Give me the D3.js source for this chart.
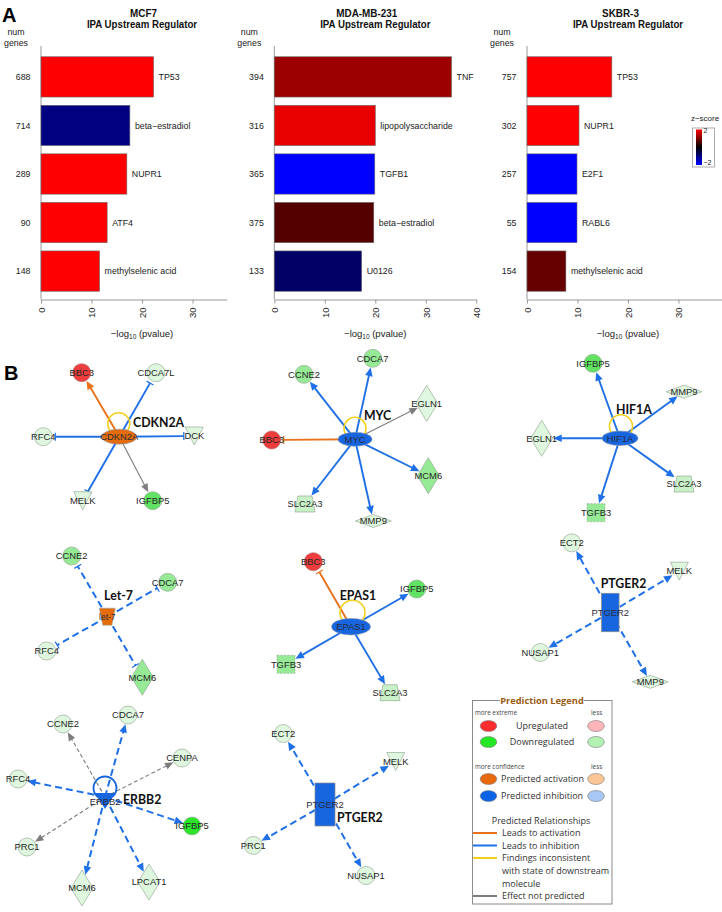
<!DOCTYPE html>
<html><head><meta charset="utf-8">
<script src="https://cdn.jsdelivr.net/npm/d3@7/dist/d3.min.js"></script>
<style>html,body{margin:0;padding:0;background:#fff}svg{display:block}</style>
</head><body>
<script>
// ---------------- Panel A data ----------------
const mcf7Regulators = ["TP53","beta\u2212estradiol","NUPR1","ATF4","methylselenic acid"];
const mcf7NumGenes   = [688,714,289,90,148];
const mcf7LogP       = [22.3,17.6,17.0,13.1,11.6];
const mcf7ZScore     = [2.0,-1.0,2.0,2.0,2.0];

const mdaRegulators  = ["TNF","lipopolysaccharide","TGFB1","beta\u2212estradiol","U0126"];
const mdaNumGenes    = [394,316,365,375,133];
const mdaLogP        = [35.1,20.0,19.9,19.7,17.3];
const mdaZScore      = [1.22,1.82,-2.0,0.67,-0.8];

const skbrRegulators = ["TP53","NUPR1","E2F1","RABL6","methylselenic acid"];
const skbrNumGenes   = [757,302,257,55,154];
const skbrLogP       = [16.8,10.3,9.9,9.9,7.7];
const skbrZScore     = [2.0,2.0,-2.0,-2.0,0.8];

const xTickValues  = [0,10,20,30,40];
const zLegendTicks = [2,-2];

// ---------------- Panel B data: [target, molecule type, expression, prediction, effect, link] ----------------
const cdkn2aEdges = [
  ["BBC3","other",3,"activation","arrow","direct"],
  ["CDCA7L","other",-1,"inhibition","bar","direct"],
  ["RFC4","other",-1,"inhibition","bar","direct"],
  ["DCK","kinase",-1,"inhibition","bar","direct"],
  ["MELK","kinase",-1,"inhibition","bar","direct"],
  ["IGFBP5","other",-3,"none","arrow","direct"]];
const mycEdges = [
  ["CCNE2","other",-2,"inhibition","arrow","direct"],
  ["CDCA7","other",-2,"inhibition","arrow","direct"],
  ["EGLN1","enzyme",-1,"none","arrow","direct"],
  ["BBC3","other",3,"activation","bar","direct"],
  ["MCM6","enzyme",-2,"inhibition","arrow","direct"],
  ["SLC2A3","transporter",-1.5,"inhibition","arrow","direct"],
  ["MMP9","peptidase",-1,"inhibition","arrow","direct"]];
const hif1aEdges = [
  ["IGFBP5","other",-3,"inhibition","arrow","direct"],
  ["MMP9","peptidase",-1,"inhibition","arrow","direct"],
  ["EGLN1","enzyme",-1,"inhibition","arrow","direct"],
  ["SLC2A3","transporter",-1.5,"inhibition","arrow","direct"],
  ["TGFB3","growth factor",-2,"inhibition","arrow","direct"]];
const let7Edges = [
  ["CCNE2","other",-2,"inhibition","bar","indirect"],
  ["CDCA7","other",-2,"inhibition","bar","indirect"],
  ["RFC4","other",-1,"inhibition","bar","indirect"],
  ["MCM6","enzyme",-2,"inhibition","bar","indirect"]];
const epas1Edges = [
  ["BBC3","other",3,"activation","bar","direct"],
  ["IGFBP5","other",-3,"inhibition","arrow","direct"],
  ["TGFB3","growth factor",-2,"inhibition","arrow","direct"],
  ["SLC2A3","transporter",-1.5,"inhibition","arrow","direct"]];
const ptger2aEdges = [
  ["ECT2","other",-1,"inhibition","arrow","indirect"],
  ["MELK","kinase",-1,"inhibition","arrow","indirect"],
  ["NUSAP1","other",-1,"inhibition","arrow","indirect"],
  ["MMP9","peptidase",-1,"inhibition","arrow","indirect"]];
const erbb2Edges = [
  ["CCNE2","other",-1,"none","arrow","indirect"],
  ["CDCA7","other",-1,"inhibition","arrow","indirect"],
  ["CENPA","other",-1,"none","arrow","indirect"],
  ["RFC4","other",-1,"inhibition","arrow","indirect"],
  ["IGFBP5","other",-4,"inhibition","arrow","indirect"],
  ["PRC1","other",-1,"none","arrow","indirect"],
  ["MCM6","enzyme",-1,"inhibition","arrow","indirect"],
  ["LPCAT1","enzyme",-1,"inhibition","arrow","indirect"]];
const ptger2bEdges = [
  ["ECT2","other",-1,"inhibition","arrow","indirect"],
  ["MELK","kinase",-1,"inhibition","arrow","indirect"],
  ["PRC1","other",-1,"inhibition","arrow","indirect"],
  ["NUSAP1","other",-1,"inhibition","arrow","indirect"]];

const legendNodeLabels = ["Upregulated","Downregulated","Predicted activation","Predicted inhibition"];
const legendLineLabels = [["Leads to activation"],["Leads to inhibition"],["Findings inconsistent","with state of downstream","molecule"],["Effect not predicted"]];

// ---------------- layout (offsets of targets from hub) ----------------
const cdkn2aOffsets  = [[-37.6,-64],[36.7,-64],[-76,0],[75,-0.7],[-36.6,64],[33.4,64]];
const mycOffsets     = [[-51,-65],[17.7,-81],[71.7,-36],[-83.3,0.7],[73.3,36.4],[-50,64.7],[18.3,81.7]];
const hif1aOffsets   = [[-27,-75],[64,-46.6],[-78.3,0],[64,45.7],[-24,74.4]];
const let7Offsets    = [[-35.6,-60.7],[60.4,-34.4],[-60.6,34.3],[35,60.6]];
const epas1Offsets   = [[-37.7,-65],[65.7,-37.7],[-65,37.6],[39,66]];
const ptger2aOffsets = [[-38.6,-69.7],[69,-41.3],[-70,40],[40,69.3]];
const erbb2Offsets   = [[-42,-73],[23,-82],[77,-39],[-87,-18],[87,29],[-78,50],[-23,91],[44,85]];
const ptger2bOffsets = [[-41.7,-71],[70.7,-43],[-71.7,41],[41,71]];

// ---------------- setup ----------------
const W = 722, H = 912;
const SANS = "'Liberation Sans', Arial, Helvetica, sans-serif";
const SEGOE = "'Open Sans', 'Noto Sans', sans-serif";
const CALI = "Lato, 'Open Sans', sans-serif";
const svg = d3.select("body").append("svg").attr("width", W).attr("height", H);

function T(parent, x, y, s, o = {}) {
  const t = parent.append("text")
    .attr("transform", `translate(${x},${y})` + (o.sx ? ` scale(${o.sx},1)` : ""))
    .attr("font-family", o.ff || SANS)
    .attr("font-size", o.fs || 8.5)
    .attr("font-weight", o.fw || "normal")
    .attr("fill", o.fill || "#222")
    .attr("text-anchor", o.anchor || "start")
    .text(s);
  if (o.dy) t.attr("dy", o.dy);
  return t;
}

// ---------------- Panel A ----------------
const zColor = d3.scaleLinear().domain([-2, 0, 2]).range(["#0000ff", "#000000", "#ff0000"]).clamp(true);
const PX = 5.05;
const frames = [
  {regs: mcf7Regulators, n: mcf7NumGenes, p: mcf7LogP, z: mcf7ZScore, title: "MCF7", x0: 41, max: 36.8, tdx: 1.5},
  {regs: mdaRegulators, n: mdaNumGenes, p: mdaLogP, z: mdaZScore, title: "MDA-MB-231", x0: 274.3, max: 40, tdx: -8.5},
  {regs: skbrRegulators, n: skbrNumGenes, p: skbrLogP, z: skbrZScore, title: "SKBR-3", x0: 527, max: 39.5, tdx: -7.5}
];
const AXIS_Y = 299.5;
frames.forEach(f => {
  const g = svg.append("g");
  const x = d3.scaleLinear().domain([0, f.max]).range([f.x0, f.x0 + f.max * PX]);
  const y = d3.scaleBand().domain(d3.range(f.p.length)).range([48.5, AXIS_Y]).padding(0.17);
  g.append("line").attr("x1", f.x0).attr("x2", f.x0).attr("y1", 46).attr("y2", AXIS_Y)
    .attr("stroke", "#9a9a9a").attr("stroke-width", 1);
  g.selectAll("rect.bar").data(f.p).join("rect").attr("class", "bar")
    .attr("x", x(0)).attr("y", (d, i) => y(i))
    .attr("width", d => x(d) - x(0)).attr("height", y.bandwidth())
    .attr("fill", (d, i) => zColor(f.z[i])).attr("stroke", "#6a6a6a").attr("stroke-width", 0.6);
  f.p.forEach((d, i) => {
    T(g, x(d) + 5, y(i) + y.bandwidth() / 2, f.regs[i], {fs: 8.8, dy: "0.35em", fill: "#222"});
    T(g, f.x0 - 10.5, y(i) + y.bandwidth() / 2, String(f.n[i]), {fs: 8.8, dy: "0.35em", anchor: "end", fill: "#222"});
  });
  T(g, f.x0 - 25, 34.5, "num", {fs: 8.8, anchor: "middle"});
  T(g, f.x0 - 25, 46, "genes", {fs: 8.8, anchor: "middle"});
  T(g, x(20) + f.tdx, 16.5, f.title, {fs: 11, fw: "bold", anchor: "middle", sx: 0.9, fill: "#111"});
  T(g, x(20), 27.5, "IPA Upstream Regulator", {fs: 11, fw: "bold", anchor: "middle", sx: 0.88, fill: "#111"});
  const ax = d3.axisBottom(x).tickValues(xTickValues.filter(t => t <= f.max)).tickSize(4).tickSizeOuter(0).tickFormat(d3.format("d"));
  const axg = g.append("g").attr("transform", `translate(0,${AXIS_Y})`).call(ax);
  axg.select(".domain").attr("stroke", "#9a9a9a");
  axg.selectAll(".tick line").attr("stroke", "#9a9a9a");
  axg.selectAll(".tick text").attr("font-family", SANS).attr("font-size", 9.5).attr("fill", "#222")
    .attr("y", 0).attr("x", -8).attr("dy", "0.35em").attr("transform", "rotate(-90)").attr("text-anchor", "end");
  const lab = g.append("text").attr("x", x(20)).attr("y", 337).attr("text-anchor", "middle")
    .attr("font-family", SANS).attr("font-size", 9.5).attr("fill", "#222");
  lab.append("tspan").text("\u2212log");
  lab.append("tspan").attr("font-size", 6.5).attr("dy", 2).text("10");
  lab.append("tspan").attr("dy", -2).text(" (pvalue)");
});
// z-score legend
{
  const g = svg.append("g");
  const zs = d3.scaleLinear().domain([2, -2]).range([129.5, 165]);
  const grad = svg.append("defs").append("linearGradient").attr("id", "zg").attr("x1", 0).attr("x2", 0).attr("y1", 0).attr("y2", 1);
  [2, 1, 0, -1, -2].forEach((v, i) => grad.append("stop").attr("offset", i / 4).attr("stop-color", zColor(v)));
  g.append("rect").attr("x", 692.5).attr("y", 128).attr("width", 22).attr("height", 39).attr("fill", "#fff").attr("stroke", "#9a9a9a").attr("stroke-width", 0.8);
  g.append("rect").attr("x", 696).attr("y", zs(2)).attr("width", 6).attr("height", zs(-2) - zs(2)).attr("fill", "url(#zg)");
  T(g, 705, 121, "z\u2212score", {fs: 8, anchor: "middle"});
  zLegendTicks.forEach(v => T(g, 703.5, zs(v) + (v > 0 ? 3 : 0), v > 0 ? String(v) : "\u2212" + Math.abs(v), {fs: 7}));
}
T(svg, 2, 22, "A", {fs: 20, fw: "bold", fill: "#000"});
T(svg, 4, 380, "B", {fs: 20, fw: "bold", fill: "#000"});

// ---------------- Panel B ----------------
const predFill = {activation: "#e46c0a", inhibition: "#1766e0"};
const edgeColor = {activation: "#e8731c", inhibition: "#1f70e6", none: "#7d7d7d"};
const exprColor = d3.scaleThreshold().domain([-3.5, -2.5, -1.75, -1.25, 0])
  .range(["#2be52b", "#62e262", "#96ea96", "#c8f1c8", "#dff7df", "#ef3c3c"]);
const shapeD = {
  "enzyme": "M0,-18L11,0L0,18L-11,0Z",
  "peptidase": "M-18,0L0,-6.5L18,0L0,6.5Z",
  "kinase": "M-9,-9L9,-9L0,9Z",
  "transporter": "M-7,-8L7,-8L10,8L-10,8Z",
  "growth factor": "M-9,-9H9V9H-9Z"
};
function boundary(type, ux, uy) {
  const ax = Math.abs(ux) || 1e-6, ay = Math.abs(uy) || 1e-6;
  switch (type) {
    case "enzyme": return 1 / (ax / 11 + ay / 18);
    case "peptidase": return 1 / (ax / 18 + ay / 6.5);
    case "kinase": return 7.5;
    case "transporter": return Math.min(9 / ax, 8 / ay);
    case "growth factor": return Math.min(9 / ax, 9 / ay);
    default: return 9;
  }
}

const nets = [
  {hub: "CDKN2A", type: "transcription regulator", state: "activation", edges: cdkn2aEdges, off: cdkn2aOffsets,
   x: 119.3, y: 436.7, rx: 17.5, ry: 7.5, loop: [-0.5, -13, 11], label: [133, 427, "start"]},
  {hub: "MYC", type: "transcription regulator", state: "inhibition", edges: mycEdges, off: mycOffsets,
   x: 355, y: 439.3, rx: 17, ry: 7, loop: [0, -11, 11], label: [364, 420, "start"]},
  {hub: "HIF1A", type: "transcription regulator", state: "inhibition", edges: hif1aEdges, off: hif1aOffsets,
   x: 620, y: 438.3, rx: 18, ry: 7.2, loop: [1, -12, 11.5], label: [616, 414, "start"]},
  {hub: "Let-7", inner: "let-7", type: "microRNA", state: "activation", edges: let7Edges, off: let7Offsets,
   x: 107.3, y: 616.7, label: [118.5, 600, "middle"]},
  {hub: "EPAS1", type: "transcription regulator", state: "inhibition", edges: epas1Edges, off: epas1Offsets,
   x: 351, y: 626.7, rx: 19.5, ry: 8.3, loop: [1.5, -14, 12.5], label: [358, 600, "middle"]},
  {hub: "PTGER2", type: "gpcr", state: "inhibition", edges: ptger2aEdges, off: ptger2aOffsets,
   x: 610.3, y: 612.5, w: 17.5, h: 38.5, label: [623.5, 588, "middle"]},
  {hub: "ERBB2", type: "kinase", state: "inhibition", edges: erbb2Edges, off: erbb2Offsets,
   x: 105, y: 797, label: [123, 804, "start"]},
  {hub: "PTGER2", type: "gpcr", state: "inhibition", edges: ptger2bEdges, off: ptger2bOffsets,
   x: 325, y: 804.5, w: 20, h: 43, label: [337, 822, "start"]}
];

function drawEdge(g, hx, hy, tx, ty, tType, pred, effect, link) {
  const dx = tx - hx, dy = ty - hy, L = Math.hypot(dx, dy), ux = dx / L, uy = dy / L, px = -uy, py = ux;
  const b = boundary(tType, ux, uy);
  const col = edgeColor[pred];
  const w = pred === "none" ? 1.1 : (link === "indirect" ? 2 : 1.9);
  let end;
  if (effect === "arrow") {
    const tip = L - b - 0.5, base = tip - 8.5, hw = pred === "none" ? 3.6 : 3.8;
    end = base + 0.5;
    g.append("path").attr("d",
      `M${hx + ux * tip},${hy + uy * tip}L${hx + ux * base + px * hw},${hy + uy * base + py * hw}L${hx + ux * base - px * hw},${hy + uy * base - py * hw}Z`)
      .attr("fill", col);
  } else {
    end = L - b - 3;
    g.append("line")
      .attr("x1", hx + ux * end + px * 4).attr("y1", hy + uy * end + py * 4)
      .attr("x2", hx + ux * end - px * 4).attr("y2", hy + uy * end - py * 4)
      .attr("stroke", col).attr("stroke-width", 1.2);
  }
  const ln = g.append("line").attr("x1", hx).attr("y1", hy)
    .attr("x2", hx + ux * end).attr("y2", hy + uy * end)
    .attr("stroke", col).attr("stroke-width", w);
  if (link === "indirect") ln.attr("stroke-dasharray", pred === "none" ? "4,2.5" : "7,4");
}

function drawTarget(g, x, y, name, type, expr) {
  const fill = exprColor(expr);
  const stroke = expr > 0 ? "#b86a6a" : "#9aaa9a";
  if (type === "other") {
    g.append("circle").attr("cx", x).attr("cy", y).attr("r", 9).attr("fill", fill).attr("stroke", stroke).attr("stroke-width", 0.7);
  } else {
    const p = g.append("path").attr("d", shapeD[type]).attr("transform", `translate(${x},${y})`)
      .attr("fill", fill).attr("stroke", stroke).attr("stroke-width", 0.7);
    if (type === "growth factor") p.attr("stroke-dasharray", "2,1.5");
  }
  T(g, x, y, name, {fs: 9.4, anchor: "middle", dy: "0.35em", fill: "#262626"});
}

nets.forEach(n => {
  const g = svg.append("g");
  n.edges.forEach((e, i) => {
    const [name, type, expr, pred, effect, link] = e;
    drawEdge(g, n.x, n.y, n.x + n.off[i][0], n.y + n.off[i][1], type, pred, effect, link);
  });
  if (n.loop) {
    const [lx, ly, r] = n.loop;
    const cx = n.x + lx, cy = n.y + ly;
    const a1 = 130 * Math.PI / 180, a2 = 48 * Math.PI / 180;
    const sx = cx + r * Math.cos(a1), sy = cy + r * Math.sin(a1);
    const ex = cx + r * Math.cos(a2), ey = cy + r * Math.sin(a2);
    g.append("path").attr("d", `M${sx},${sy}A${r},${r} 0 1 1 ${ex},${ey}`)
      .attr("fill", "none").attr("stroke", "#f3d01e").attr("stroke-width", 1.6);
    g.append("path").attr("d", `M${sx - 3.5},${sy - 2}L${sx + 3},${sy - 1}L${sx - 1},${sy + 4}Z`).attr("fill", "#f3d01e");
  }
  n.edges.forEach((e, i) => drawTarget(g, n.x + n.off[i][0], n.y + n.off[i][1], e[0], e[1], e[2]));
  const col = predFill[n.state];
  if (n.type === "transcription regulator") {
    g.append("ellipse").attr("cx", n.x).attr("cy", n.y).attr("rx", n.rx).attr("ry", n.ry)
      .attr("fill", col).attr("stroke", "#8a96a8").attr("stroke-width", 0.6);
  } else if (n.type === "microRNA") {
    g.append("path").attr("d", "M-8,-8.5L8,-8.5L4.5,8.5L-4.5,8.5Z").attr("transform", `translate(${n.x},${n.y})`)
      .attr("fill", col).attr("stroke", "#a0a0a0").attr("stroke-width", 0.6);
  } else if (n.type === "gpcr") {
    g.append("rect").attr("x", n.x - n.w / 2).attr("y", n.y - n.h / 2).attr("width", n.w).attr("height", n.h)
      .attr("fill", col).attr("stroke", "#8a8a8a").attr("stroke-width", 0.7);
  } else if (n.type === "kinase") {
    g.append("circle").attr("cx", n.x).attr("cy", n.y - 9).attr("r", 11.5)
      .attr("fill", "none").attr("stroke", col).attr("stroke-width", 1.8);
    g.append("path").attr("d", "M-10,-4L10,-4L0,12Z").attr("transform", `translate(${n.x},${n.y})`).attr("fill", col);
  }
  T(g, n.x, n.y + (n.type === "kinase" ? 5 : 0), n.inner || n.hub,
    {fs: n.type === "microRNA" ? 8.5 : 9.4, anchor: "middle", dy: "0.35em", fill: "#2b2b3a"});
  T(g, n.label[0], n.label[1], n.hub, {ff: CALI, fs: 12.3, fw: "bold", anchor: n.label[2], fill: "#111"});
});

// ---------------- Prediction legend ----------------
{
  const g = svg.append("g");
  g.append("rect").attr("x", 472.5).attr("y", 700.5).attr("width", 139.5).attr("height", 203.5)
    .attr("fill", "#fff").attr("stroke", "#8a8a8a").attr("stroke-width", 1);
  g.append("rect").attr("x", 500).attr("y", 694).attr("width", 84).attr("height", 12).attr("fill", "#fff");
  T(g, 542, 703.8, "Prediction Legend", {ff: SEGOE, fs: 9.3, fw: "bold", anchor: "middle", fill: "#9a5d16"});
  const small = {ff: SEGOE, fs: 6.3, fill: "#444"};
  T(g, 475, 715, "more extreme", small);
  T(g, 591, 715, "less", small);
  T(g, 475, 769, "more confidence", small);
  T(g, 591, 769, "less", small);
  const strong = ["#ff2d2d", "#25e825", "#e8680c", "#0c63e8"];
  const weak = ["#ffb5ba", "#b4f2b4", "#fbc797", "#a9c7f3"];
  const rowsY = [726, 742, 779, 796];
  legendNodeLabels.forEach((s, i) => {
    g.append("ellipse").attr("cx", 488.5).attr("cy", rowsY[i]).attr("rx", 8.3).attr("ry", 5.5)
      .attr("fill", strong[i]).attr("stroke", "#7a7a7a").attr("stroke-width", 0.6);
    g.append("ellipse").attr("cx", 596).attr("cy", rowsY[i]).attr("rx", 8.3).attr("ry", 5.5)
      .attr("fill", weak[i]).attr("stroke", "#7a7a7a").attr("stroke-width", 0.6);
    if (i < 2) T(g, 542, rowsY[i], s, {ff: SEGOE, fs: 9, anchor: "middle", dy: "0.35em", fill: "#333"});
    else T(g, 501, rowsY[i], s, {ff: SEGOE, fs: 9, dy: "0.35em", fill: "#333"});
  });
  T(g, 541, 821, "Predicted Relationships", {ff: SEGOE, fs: 9, anchor: "middle", dy: "0.35em", fill: "#333"});
  const lineCols = [edgeColor.activation, edgeColor.inhibition, "#f3d01e", "#7d7d7d"];
  const lineY = [833, 845.5, 858, 896];
  legendLineLabels.forEach((arr, i) => {
    g.append("line").attr("x1", 473).attr("x2", 497).attr("y1", lineY[i]).attr("y2", lineY[i])
      .attr("stroke", lineCols[i]).attr("stroke-width", 2);
    arr.forEach((s, k) => T(g, 502, lineY[i] + k * 12.7, s, {ff: SEGOE, fs: 9, dy: "0.35em", fill: "#333"}));
  });
}
</script>
</body></html>
